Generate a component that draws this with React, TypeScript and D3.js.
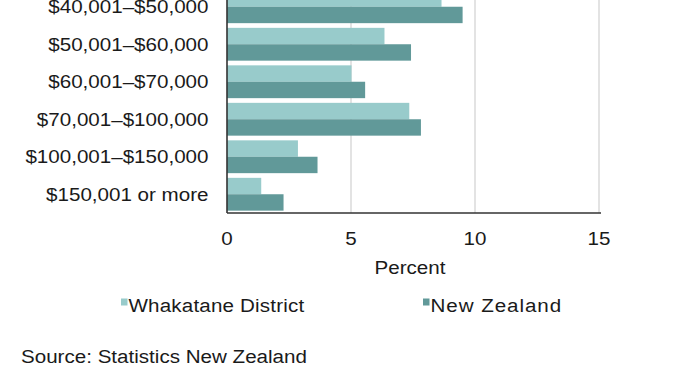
import * as d3 from 'd3';

const categories = [
  '$40,001–$50,000',
  '$50,001–$60,000',
  '$60,001–$70,000',
  '$70,001–$100,000',
  '$100,001–$150,000',
  '$150,001 or more',
];
const whakatane = [8.65, 6.35, 5.02, 7.35, 2.86, 1.38];
const newZealand = [9.5, 7.42, 5.57, 7.82, 3.65, 2.28];
const seriesNames = ['Whakatane District', 'New Zealand'];
const xTicks = [0, 5, 10, 15];

const colors = ['#98cbcb', '#619999'];
const font = '"Liberation Sans", Arial, sans-serif';
const fs = 17.6;
const sx = 1.17;

const W = 674;
const H = 386;
const left = 227;
const right = 599;
const axisY = 213;

const Txt = ({x, y, anchor = 'start', spacing = 0, children}: any) => (
  <text
    transform={`translate(${x},${y}) scale(${sx},1)`}
    textAnchor={anchor}
    fontFamily={font}
    fontSize={fs}
    letterSpacing={spacing}
    fill="#1a1a1a"
  >
    {children}
  </text>
);

export default function App() {
  const x = d3.scaleLinear().domain([0, 15]).range([left, right]);
  // top band is cut off by the frame, as in the original crop
  const y = d3
    .scaleBand()
    .domain(categories)
    .range([axisY - 225, axisY])
    .paddingInner(0.125)
    .paddingOuter(0.0625);
  const sub = d3.scaleBand().domain(seriesNames).range([0, y.bandwidth()]);
  const series = [whakatane, newZealand];

  return (
    <svg
      width={W}
      height={H}
      style={{position: 'absolute', left: 0, top: 0, background: '#fff'}}
    >
      {xTicks.slice(1).map((t) => (
        <line key={t} x1={x(t)} x2={x(t)} y1={0} y2={axisY} stroke="#d4d4d4" strokeWidth={1.3} />
      ))}

      {series.map((vals, si) =>
        vals.map((v, i) => (
          <rect
            key={`${si}-${i}`}
            x={x(0)}
            y={(y(categories[i]) as number) + (sub(seriesNames[si]) as number)}
            width={x(v) - x(0)}
            height={sub.bandwidth()}
            fill={colors[si]}
          />
        ))
      )}

      <line x1={left} x2={left} y1={0} y2={axisY} stroke="#333" strokeWidth={1.6} />
      <line x1={left} x2={right + 2} y1={axisY} y2={axisY} stroke="#333" strokeWidth={1.6} />

      {categories.map((c) => (
        <Txt key={c} x={208.5} y={(y(c) as number) + y.bandwidth() / 2 + 6.3} anchor="end">
          {c}
        </Txt>
      ))}

      {xTicks.map((t) => (
        <Txt key={t} x={x(t)} y={245} anchor="middle">
          {t}
        </Txt>
      ))}
      <Txt x={410} y={274} anchor="middle">Percent</Txt>

      {seriesNames.map((s, i) => {
        const lx = i === 0 ? 121 : 423;
        return (
          <g key={s}>
            <rect x={lx} y={298.5} width={6.5} height={7} fill={colors[i]} />
            <Txt x={lx + 7.5} y={311.5} spacing={i === 0 ? 0.15 : 0.8}>{s}</Txt>
          </g>
        );
      })}

      <Txt x={21} y={363}>Source: Statistics New Zealand</Txt>
    </svg>
  );
}
